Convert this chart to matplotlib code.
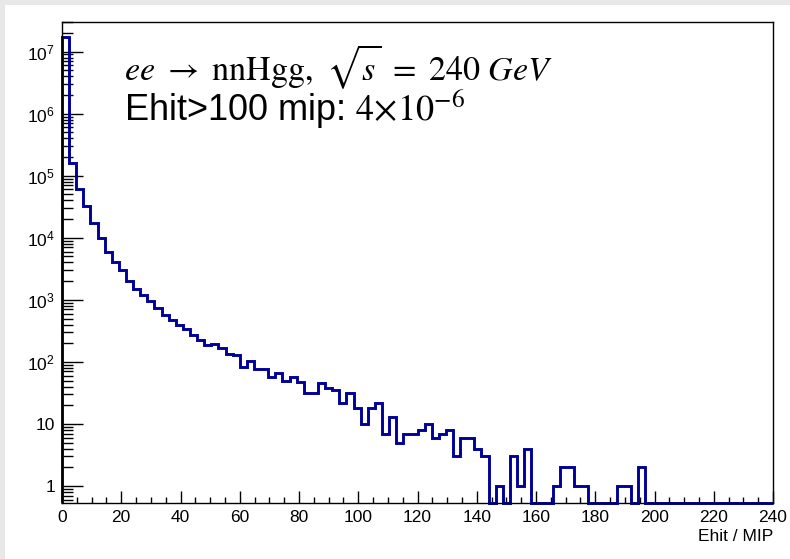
import numpy as np
import matplotlib
matplotlib.use("Agg")
import matplotlib.pyplot as plt
from matplotlib.patches import Rectangle
from matplotlib.ticker import LogLocator, MultipleLocator, NullFormatter

plt.rcParams["font.family"] = ["Liberation Sans", "DejaVu Sans"]
plt.rcParams["mathtext.fontset"] = "custom"
plt.rcParams["mathtext.rm"] = "Liberation Sans"
plt.rcParams["mathtext.it"] = "Liberation Sans:italic"

# histogram: 100 bins over 0..240 (Ehit / MIP), entries per bin
x_min, x_max, n_bins = 0, 240, 100
counts = [
    1.7e7, 1.6e5, 6.0e4, 3.3e4, 1.7e4, 1.0e4, 6.0e3, 4.0e3, 3.0e3, 2.0e3,
    1.5e3, 1.2e3, 940, 735, 575, 475, 395, 335, 272, 226,
    188, 193, 170, 134, 129, 84, 105, 76, 76, 58,
    67, 49, 58, 48, 31, 32, 46, 38, 35, 22,
    31, 18, 10, 18, 22, 7, 13, 5, 7, 7,
    8, 10, 6, 7, 8, 3, 6, 6, 4, 3,
    0, 1, 0, 3, 1, 4, 0, 0, 0, 1,
    2, 2, 1, 1, 0, 0, 0, 0, 1, 1,
    0, 2, 0, 0, 0, 0, 0, 0, 0, 0,
    0, 0, 0, 0, 0, 0, 0, 0, 0, 0,
]
ytick_values = [1, 10, 1e2, 1e3, 1e4, 1e5, 1e6, 1e7]
ytick_labels = ["1", "10", r"$10^{2}$", r"$10^{3}$", r"$10^{4}$",
                r"$10^{5}$", r"$10^{6}$", r"$10^{7}$"]
xtick_values = [0, 20, 40, 60, 80, 100, 120, 140, 160, 180, 200, 220, 240]

y_lo, y_hi = 0.532, 3.0e7

fig = plt.figure(figsize=(7.9, 5.59), dpi=100)
fig.patch.set_facecolor("#e8e8e8")
fig.add_artist(Rectangle((5 / 790, 0), 1, 1 - 5 / 559, transform=fig.transFigure,
                         facecolor="white", edgecolor="none", zorder=-10))

ax = fig.add_axes([62 / 790, 1 - 503 / 559, (773 - 62) / 790, (503 - 22) / 559])
ax.set_facecolor("white")

edges = np.linspace(x_min, x_max, n_bins + 1)
vals = np.clip(np.array(counts, dtype=float), y_lo, None)  # empty bins sit on the frame, like ROOT
ax.stairs(vals, edges, baseline=y_lo, color="#000099", lw=2.1, clip_on=False, zorder=2.4)

ax.set_yscale("log")
ax.set_xlim(x_min, x_max)
ax.set_ylim(y_lo, y_hi)

ax.set_yticks(ytick_values, ytick_labels)
ax.yaxis.set_minor_locator(LogLocator(base=10, subs=np.arange(2, 10)))
ax.yaxis.set_minor_formatter(NullFormatter())
ax.set_xticks(xtick_values)
ax.xaxis.set_minor_locator(MultipleLocator(5))

ax.tick_params(axis="both", which="both", direction="in", top=False, right=False,
               width=1, color="black", labelsize=12.5)
ax.tick_params(axis="y", which="major", length=15, pad=5)
ax.tick_params(axis="y", which="minor", length=8)
ax.tick_params(axis="x", which="major", length=9, pad=5)
ax.tick_params(axis="x", which="minor", length=4)
for s in ax.spines.values():
    s.set_linewidth(1.0)
    s.set_color("black")

ax.set_xlabel("Ehit / MIP", fontsize=12.5, loc="right", labelpad=3)

fig.text(124 / 790, 1 - 80 / 559,
         r"$ee\ \rightarrow\ \mathrm{nnHgg},\ \sqrt{s}\ =\ 240\ GeV$",
         fontsize=24.5, math_fontfamily="stix", va="baseline")
fig.text(124 / 790, 1 - 121 / 559, r"Ehit>100 mip: $\mathrm{4{\times}10^{-6}}$",
         fontsize=26, math_fontfamily="stix", va="baseline")

fig.savefig("out.png", dpi=100, facecolor=fig.get_facecolor())
